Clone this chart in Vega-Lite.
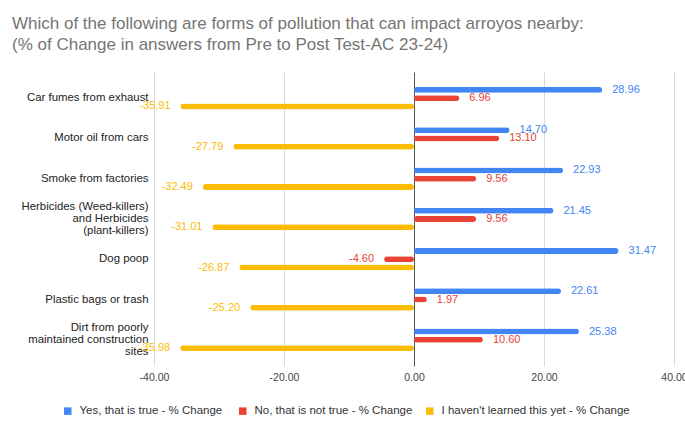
{
  "$schema": "https://vega.github.io/schema/vega-lite/v6.json",
  "autosize": "none",
  "width": 520,
  "height": 294,
  "padding": {"left": 154, "top": 72, "right": 11, "bottom": 58},
  "background": "white",
  "title": {
    "text": ["Which of the following are forms of pollution that can impact arroyos nearby:", "(% of Change in answers from Pre to Post Test-AC 23-24)"],
    "anchor": "start",
    "frame": "group",
    "dx": -142,
    "fontSize": 17,
    "font": "Liberation Sans",
    "fontWeight": "normal",
    "color": "#757575",
    "offset": 18,
    "lineHeight": 21
  },
  "data": {
    "values": [
      {"category": "Car fumes from exhaust", "series": "Yes, that is true  - % Change", "value": 28.96},
      {"category": "Car fumes from exhaust", "series": "No, that is not true - % Change", "value": 6.96},
      {"category": "Car fumes from exhaust", "series": "I haven't learned this yet - % Change", "value": -35.91},
      {"category": "Motor oil from cars", "series": "Yes, that is true  - % Change", "value": 14.70},
      {"category": "Motor oil from cars", "series": "No, that is not true - % Change", "value": 13.10},
      {"category": "Motor oil from cars", "series": "I haven't learned this yet - % Change", "value": -27.79},
      {"category": "Smoke from factories", "series": "Yes, that is true  - % Change", "value": 22.93},
      {"category": "Smoke from factories", "series": "No, that is not true - % Change", "value": 9.56},
      {"category": "Smoke from factories", "series": "I haven't learned this yet - % Change", "value": -32.49},
      {"category": "Herbicides (Weed-killers)|and Herbicides|(plant-killers)", "series": "Yes, that is true  - % Change", "value": 21.45},
      {"category": "Herbicides (Weed-killers)|and Herbicides|(plant-killers)", "series": "No, that is not true - % Change", "value": 9.56},
      {"category": "Herbicides (Weed-killers)|and Herbicides|(plant-killers)", "series": "I haven't learned this yet - % Change", "value": -31.01},
      {"category": "Dog poop", "series": "Yes, that is true  - % Change", "value": 31.47},
      {"category": "Dog poop", "series": "No, that is not true - % Change", "value": -4.60},
      {"category": "Dog poop", "series": "I haven't learned this yet - % Change", "value": -26.87},
      {"category": "Plastic bags or trash", "series": "Yes, that is true  - % Change", "value": 22.61},
      {"category": "Plastic bags or trash", "series": "No, that is not true - % Change", "value": 1.97},
      {"category": "Plastic bags or trash", "series": "I haven't learned this yet - % Change", "value": -25.20},
      {"category": "Dirt from poorly|maintained construction|sites", "series": "Yes, that is true  - % Change", "value": 25.38},
      {"category": "Dirt from poorly|maintained construction|sites", "series": "No, that is not true - % Change", "value": 10.60},
      {"category": "Dirt from poorly|maintained construction|sites", "series": "I haven't learned this yet - % Change", "value": -35.98}
    ]
  },
  "encoding": {
    "y": {
      "field": "category",
      "type": "nominal",
      "sort": null,
      "scale": {"paddingInner": 0.44, "paddingOuter": 0.37},
      "axis": {
        "title": null,
        "domain": false,
        "ticks": false,
        "grid": false,
        "labelPadding": 6,
        "labelFontSize": 11.4,
        "labelColor": "#222222",
        "labelLineHeight": 12,
        "labelLimit": 0,
        "labelOffset": {"condition": {"test": "indexof(datum.label, '|') >= 0", "value": -12}, "value": 0},
        "labelExpr": "split(datum.label, '|')"
      }
    },
    "yOffset": {
      "field": "series",
      "type": "nominal",
      "sort": ["Yes, that is true  - % Change", "No, that is not true - % Change", "I haven't learned this yet - % Change"],
      "scale": {"paddingInner": 0.28, "paddingOuter": 0}
    },
    "x": {
      "field": "value",
      "type": "quantitative",
      "scale": {"domain": [-40, 40], "nice": false},
      "axis": {
        "title": null,
        "values": [-40, -20, 0, 20, 40],
        "format": ".2f",
        "labelExpr": "replace(datum.label, '\u2212', '-')",
        "domain": false,
        "ticks": false,
        "labelPadding": 6,
        "labelFontSize": 10.5,
        "labelColor": "#444444",
        "labelFlush": false,
        "gridColor": {"condition": {"test": "datum.value === 0", "value": "#555555"}, "value": "#d9d9d9"}
      }
    }
  },
  "layer": [
    {
      "mark": {"type": "bar", "cornerRadius": 3},
      "encoding": {
        "color": {
          "field": "series",
          "type": "nominal",
          "sort": ["Yes, that is true  - % Change", "No, that is not true - % Change", "I haven't learned this yet - % Change"],
          "scale": {
            "domain": ["Yes, that is true  - % Change", "No, that is not true - % Change", "I haven't learned this yet - % Change"],
            "range": ["#4285F4", "#EA4335", "#FBBC04"]
          },
          "legend": {
            "orient": "none",
            "legendX": -92,
            "legendY": 333,
            "direction": "horizontal",
            "title": null,
            "symbolType": "square",
            "symbolSize": 56,
            "symbolStrokeWidth": 0,
            "labelOffset": 6,
            "labelFontSize": 11.5,
            "labelColor": "#333333",
            "labelLimit": 0,
            "columnPadding": 11
          }
        }
      }
    },
    {
      "transform": [{"filter": "datum.value >= 0"}],
      "mark": {"type": "text", "align": "left", "dx": 10, "baseline": "middle", "fontSize": 11, "text": {"expr": "format(datum.value, '.2f')"}},
      "encoding": {
        "color": {"field": "series", "type": "nominal", "legend": null}
      }
    },
    {
      "transform": [{"filter": "datum.value < 0"}],
      "mark": {"type": "text", "align": "right", "dx": -10, "baseline": "middle", "fontSize": 11, "text": {"expr": "'-' + format(abs(datum.value), '.2f')"}},
      "encoding": {
        "color": {"field": "series", "type": "nominal", "legend": null}
      }
    }
  ],
  "config": {
    "font": "Liberation Sans",
    "view": {"stroke": null}
  }
}
